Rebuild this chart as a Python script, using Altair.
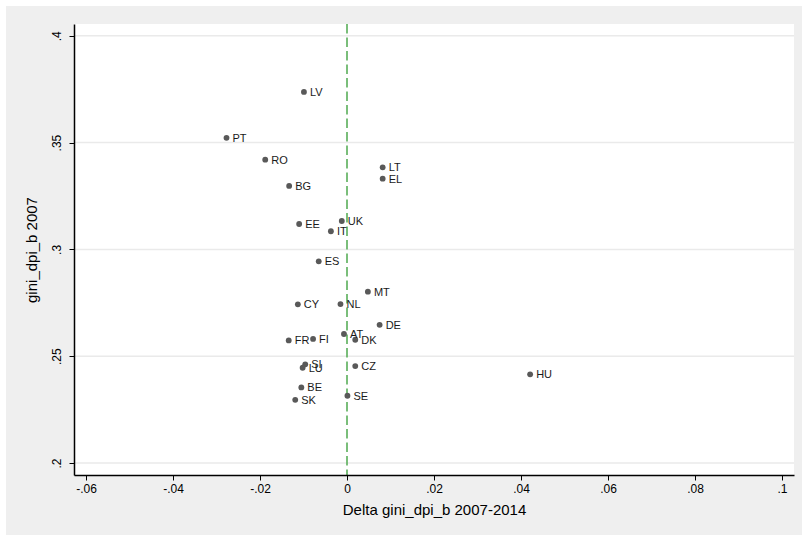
import altair as alt
import pandas as pd

# Country codes with their change in Gini (2007-2014) and Gini level in 2007
countries = ["LV", "PT", "RO", "LT", "EL", "BG", "EE", "UK", "IT", "ES",
             "MT", "CY", "NL", "DE", "AT", "FR", "FI", "DK", "SI", "LU",
             "CZ", "BE", "SE", "SK", "HU"]
delta_gini = [-0.0099, -0.0277, -0.0188, 0.0082, 0.0082, -0.0133, -0.0110, -0.0012, -0.0037, -0.0065,
              0.0048, -0.0113, -0.0015, 0.0075, -0.0007, -0.0134, -0.0078, 0.0019, -0.0096, -0.0102,
              0.0019, -0.0105, 0.0001, -0.0119, 0.0421]
gini_2007 = [0.3737, 0.3522, 0.3420, 0.3384, 0.3331, 0.3297, 0.3119, 0.3133, 0.3085, 0.2944,
             0.2802, 0.2743, 0.2744, 0.2647, 0.2604, 0.2574, 0.2581, 0.2577, 0.2462, 0.2446,
             0.2454, 0.2354, 0.2315, 0.2296, 0.2415]

x_ticks = [-0.06, -0.04, -0.02, 0, 0.02, 0.04, 0.06, 0.08, 0.1]
y_ticks = [0.2, 0.25, 0.3, 0.35, 0.4]
zero_line = [0]

df = pd.DataFrame({"country": countries, "delta": delta_gini, "gini": gini_2007})
grid_df = pd.DataFrame({"gy": y_ticks})
vline_df = pd.DataFrame({"vx": zero_line})

W, H = 720, 451
FONT = "Liberation Sans Narrow, Liberation Sans, Arial, sans-serif"

# Stata-style labels: drop the leading zero, keep a plain hyphen for negatives
stata_fmt = ("datum.value == 0 ? '0' : (datum.value < 0 ? '-' : '') + "
             "replace(format(abs(datum.value), '.2~f'), '0.', '.')")

x_scale = alt.Scale(domain=[-0.06276, 0.10276], nice=False, zero=False)
y_scale = alt.Scale(domain=[0.1944, 0.4055], nice=False, zero=False)

x_axis = alt.Axis(values=x_ticks, labelExpr=stata_fmt, grid=False, zindex=1,
                  domainColor="#000000", domainWidth=1.5, tickColor="#000000",
                  tickSize=5, tickWidth=1, labelFont=FONT, labelFontSize=12,
                  labelColor="#000000", labelPadding=3,
                  title="Delta gini_dpi_b 2007-2014", titleFont=FONT,
                  titleFontSize=15, titleFontWeight="normal", titleColor="#000000",
                  titlePadding=8)
y_axis = alt.Axis(values=y_ticks, labelExpr=stata_fmt, grid=False, zindex=1,
                  domainColor="#000000", domainWidth=1.5, tickColor="#000000",
                  tickSize=5, tickWidth=1, labelFont=FONT, labelFontSize=12,
                  labelColor="#000000", labelAngle=270, labelAlign="center",
                  labelBaseline="bottom", labelPadding=6,
                  title="gini_dpi_b 2007", titleFont=FONT, titleFontSize=15,
                  titleFontWeight="normal", titleColor="#000000", titlePadding=11)

# Outer grey panel and white plot region
panel = alt.Chart(pd.DataFrame({"k": [0]})).mark_rect(color="#efefef", clip=False).encode(
    x=alt.value(-68), x2=alt.value(W + 8), y=alt.value(-18), y2=alt.value(H + 60))
plot_bg = alt.Chart(pd.DataFrame({"k": [0]})).mark_rect(color="#ffffff").encode(
    x=alt.value(0), x2=alt.value(W), y=alt.value(0), y2=alt.value(H))

grid = alt.Chart(grid_df).mark_rule(color="#eaeaea", strokeWidth=1.5).encode(
    y=alt.Y("gy:Q", scale=y_scale, axis=y_axis))

vline = alt.Chart(vline_df).mark_rule(color="#5aae5a", strokeWidth=1.6,
                                      strokeDash=[9.5, 4]).encode(
    x=alt.X("vx:Q", scale=x_scale, axis=x_axis))

points = alt.Chart(df).mark_circle(size=34, color="#595959", opacity=1).encode(
    x=alt.X("delta:Q", scale=x_scale, axis=x_axis),
    y=alt.Y("gini:Q", scale=y_scale, axis=y_axis))

labels = alt.Chart(df).mark_text(align="left", baseline="middle", dx=6, dy=1,
                                 font="Liberation Sans, Arial, sans-serif",
                                 fontSize=11, color="#1a1a1a").encode(
    x=alt.X("delta:Q", scale=x_scale, axis=x_axis),
    y=alt.Y("gini:Q", scale=y_scale, axis=y_axis),
    text="country:N")

chart = alt.layer(panel, plot_bg, grid, vline, points, labels).properties(
    width=W, height=H,
    autosize=alt.AutoSizeParams(type="none"),
    padding={"left": 74, "top": 24, "right": 14, "bottom": 66},
).configure_view(stroke=None).configure(background="#ffffff")

chart.save("out.html", embed_options={"renderer": "svg", "actions": False})
